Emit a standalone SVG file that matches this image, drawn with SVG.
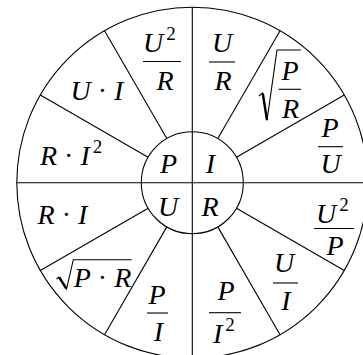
<svg xmlns="http://www.w3.org/2000/svg" width="363" height="355" viewBox="0 0 363 355">
<style>
.ln{stroke:#000;stroke-width:1.1;fill:none}
text{font-family:'Liberation Serif',serif;font-style:italic;font-size:28px;fill:#000}
.m{text-anchor:middle}
.op{font-style:normal}
.sup{font-size:19px;font-style:normal}
.bar{stroke:#000;stroke-width:1.1}
</style>
<rect width="363" height="355" fill="#fff"/>
<g id="wheel">
<circle class="ln" cx="192.3" cy="182.7" r="175.5"/>
<circle class="ln" cx="192.3" cy="182.7" r="51"/>
</g>
<g id="connectors" class="ln">
<line x1="192.3" y1="7.2" x2="192.3" y2="358.2"/>
<line x1="16.8" y1="182.7" x2="367.8" y2="182.7"/>
<line x1="166.8" y1="138.53" x2="104.55" y2="30.71"/>
<line x1="217.8" y1="138.53" x2="280.05" y2="30.71"/>
<line x1="148.13" y1="157.2" x2="40.31" y2="94.95"/>
<line x1="236.47" y1="157.2" x2="344.29" y2="94.95"/>
<line x1="148.13" y1="208.2" x2="40.31" y2="270.45"/>
<line x1="236.47" y1="208.2" x2="344.29" y2="270.45"/>
<line x1="166.8" y1="226.87" x2="104.55" y2="334.69"/>
<line x1="217.8" y1="226.87" x2="280.05" y2="334.69"/>
</g>
<g id="labels">
<g id="center">
<text class="m" x="168.5" y="172.5">P</text>
<text class="m" x="210.5" y="172.5">I</text>
<text class="m" x="168" y="216">U</text>
<text class="m" x="210" y="216">R</text>
</g>
<g id="u2r">
<text x="143" y="52">U<tspan class="sup" dx="3" dy="-12">2</tspan></text>
<line class="bar" x1="143" y1="61.5" x2="181" y2="61.5"/>
<text class="m" x="165" y="89.5">R</text>
</g>
<g id="ur">
<text class="m" x="222" y="51.5">U</text>
<line class="bar" x1="209" y1="62" x2="235" y2="62"/>
<text class="m" x="223" y="90">R</text>
</g>
<g id="sqrtpr">
<polyline class="ln" points="259,96 262.5,93 267,120.5 277,50 301,50"/>
<line stroke="#000" stroke-width="2.4" x1="262.8" y1="93.5" x2="267" y2="120"/>
<text class="m" x="290" y="80">P</text>
<line class="bar" x1="278.7" y1="89.3" x2="301" y2="89.3"/>
<text class="m" x="290.5" y="118">R</text>
</g>
<g id="pu">
<text class="m" x="330" y="137">P</text>
<line class="bar" x1="318" y1="146.7" x2="343" y2="146.7"/>
<text class="m" x="330.5" y="173">U</text>
</g>
<g id="ui">
<text class="m" x="97" y="100">U<tspan class="op"> · </tspan>I</text>
</g>
<g id="ri2">
<text x="40" y="165">R<tspan class="op"> · </tspan>I<tspan class="sup" dx="3" dy="-12">2</tspan></text>
</g>
<g id="ri">
<text class="m" x="62.5" y="224">R<tspan class="op"> · </tspan>I</text>
</g>
<g id="sqrtpxr">
<polyline class="ln" points="56.5,279 59,277 66.5,289 73.3,259.7 131.7,259.7"/>
<line stroke="#000" stroke-width="2.4" x1="59.3" y1="277.5" x2="66.3" y2="288.5"/>
<text class="m" x="102.5" y="287">P<tspan class="op"> · </tspan>R</text>
</g>
<g id="u2p">
<text x="316" y="223">U<tspan class="sup" dx="3" dy="-12">2</tspan></text>
<line class="bar" x1="314" y1="228.5" x2="354" y2="228.5"/>
<text class="m" x="335" y="255">P</text>
</g>
<g id="uI">
<text class="m" x="284" y="272">U</text>
<line class="bar" x1="273" y1="283" x2="298" y2="283"/>
<text class="m" x="286" y="310">I</text>
</g>
<g id="pi2">
<text class="m" x="226" y="300">P</text>
<line class="bar" x1="209" y1="312.7" x2="241" y2="312.7"/>
<text x="213" y="343">I<tspan class="sup" dx="3" dy="-12">2</tspan></text>
</g>
<g id="pi">
<text class="m" x="157" y="304">P</text>
<line class="bar" x1="147" y1="313" x2="168" y2="313"/>
<text class="m" x="158.5" y="341">I</text>
</g>
</g>
</svg>
